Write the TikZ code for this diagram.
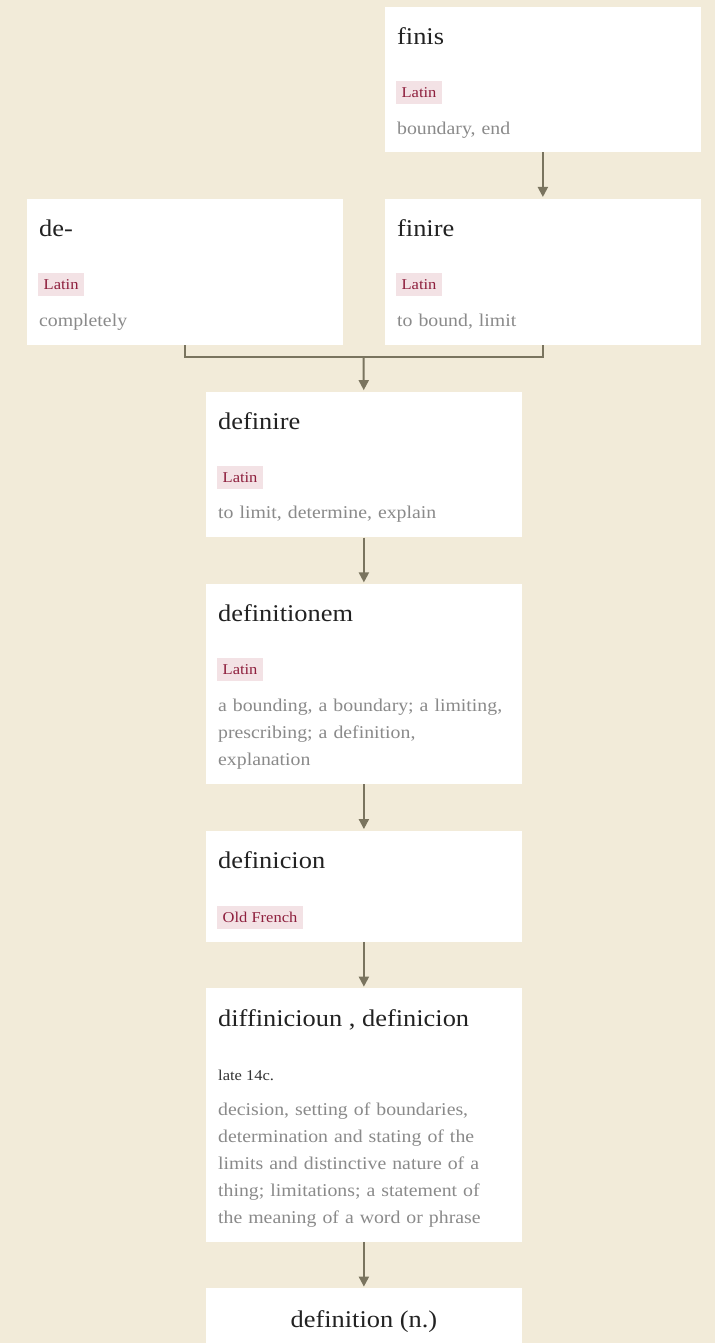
\documentclass[tikz,border=0pt]{standalone}
\usepackage{fontspec}
\setmainfont[FakeStretch=1.1]{Liberation Serif}
\usetikzlibrary{arrows.meta,positioning}
\definecolor{paper}{HTML}{F2EBD9}
\definecolor{titleink}{HTML}{222222}
\definecolor{tagpink}{HTML}{F3E2E5}
\definecolor{tagred}{HTML}{8E1F3D}
\definecolor{glossgray}{HTML}{8A8A8A}
\definecolor{dateink}{HTML}{333333}
\definecolor{linkbrown}{HTML}{7A745F}

\begin{document}
\begin{tikzpicture}[x=1pt,y=-1pt,>={Triangle[length=10pt,width=10pt]},
  card/.style={fill=white,inner sep=0pt,anchor=north west,minimum width=315.5pt},
  word/.style={anchor=base west,inner sep=0pt,text=titleink,font=\fontsize{24}{28}\selectfont},
  lang/.style={anchor=base west,fill=tagpink,text=tagred,inner xsep=5.5pt,inner ysep=4.5pt,text height=12pt,text depth=1.5pt,font=\fontsize{15}{17}\selectfont},
  era/.style={anchor=base west,inner sep=0pt,text=dateink,font=\fontsize{15}{17}\selectfont},
  gloss/.style={anchor=north west,inner sep=0pt,text=glossgray,text width=292pt,align=left,font=\fontsize{18}{27}\selectfont},
  link/.style={draw=linkbrown,line width=2pt}]
\fill[paper] (0,0) rectangle (715,1343);

% Latin roots
\node[card,minimum height=145pt] (finis) at (385,7) {};
\node[word] (finis-word) at ([shift={(12,38)}]finis.north west) {finis};
\node[lang] (finis-lang) at ([shift={(11,91)}]finis.north west) {Latin};
\node[gloss] (finis-gloss) at ([shift={(12,108.1)}]finis.north west) {\strut boundary, end};

\node[card,minimum height=146pt] (de) at (27,199) {};
\node[word] (de-word) at ([shift={(12,38)}]de.north west) {de-};
\node[lang] (de-lang) at ([shift={(11,91)}]de.north west) {Latin};
\node[gloss] (de-gloss) at ([shift={(12,108.1)}]de.north west) {\strut completely};

\node[card,minimum height=146pt] (finire) at (385,199) {};
\node[word] (finire-word) at ([shift={(12,38)}]finire.north west) {finire};
\node[lang] (finire-lang) at ([shift={(11,91)}]finire.north west) {Latin};
\node[gloss] (finire-gloss) at ([shift={(12,108.1)}]finire.north west) {\strut to bound, limit};

\node[card,minimum height=145.5pt] (definire) at (206,391.7) {};
\node[word] (definire-word) at ([shift={(12,38)}]definire.north west) {definire};
\node[lang] (definire-lang) at ([shift={(11,91)}]definire.north west) {Latin};
\node[gloss] (definire-gloss) at ([shift={(12,108.1)}]definire.north west) {\strut to limit, determine, explain};

\node[card,minimum height=200pt] (definitionem) at (206,584) {};
\node[word] (definitionem-word) at ([shift={(12,38)}]definitionem.north west) {definitionem};
\node[lang] (definitionem-lang) at ([shift={(11,91)}]definitionem.north west) {Latin};
\node[gloss] (definitionem-gloss) at ([shift={(12,108.1)}]definitionem.north west)
  {\strut a bounding, a boundary; a limiting,\\ prescribing; a definition,\\ explanation};

% French and English
\node[card,minimum height=111pt] (definicion) at (206,830.7) {};
\node[word] (definicion-word) at ([shift={(12,38)}]definicion.north west) {definicion};
\node[lang] (definicion-lang) at ([shift={(11,92)}]definicion.north west) {Old French};

\node[card,minimum height=253.4pt] (diffinicioun) at (206,988.3) {};
\node[word] (diffinicioun-word) at ([shift={(12,38)}]diffinicioun.north west) {diffinicioun , definicion};
\node[era] (diffinicioun-era) at ([shift={(12,92)}]diffinicioun.north west) {late 14c.};
\node[gloss] (diffinicioun-gloss) at ([shift={(12,108.1)}]diffinicioun.north west)
  {\strut decision, setting of boundaries,\\ determination and stating of the\\ limits and distinctive nature of a\\ thing; limitations; a statement of\\ the meaning of a word or phrase};

\node[card,minimum height=54.7pt] (definition) at (206,1288.3) {};
\node[word,anchor=base] (definition-word) at ([shift={(0,39.7)}]definition.north) {definition (n.)};

% links
\coordinate (join) at (363.75,357);
\draw[link,->,shorten >=2pt] (finis) -- (finire);
\draw[link] (de.south) |- (join) -| (finire.south);
\draw[link,->,shorten >=1.5pt] (join) -- (definire);
\draw[link,->,shorten >=1.5pt] (definire) -- (definitionem);
\draw[link,->,shorten >=1.5pt] (definitionem) -- (definicion);
\draw[link,->,shorten >=1.5pt] (definicion) -- (diffinicioun);
\draw[link,->,shorten >=1.5pt] (diffinicioun) -- (definition);
\end{tikzpicture}
\end{document}
